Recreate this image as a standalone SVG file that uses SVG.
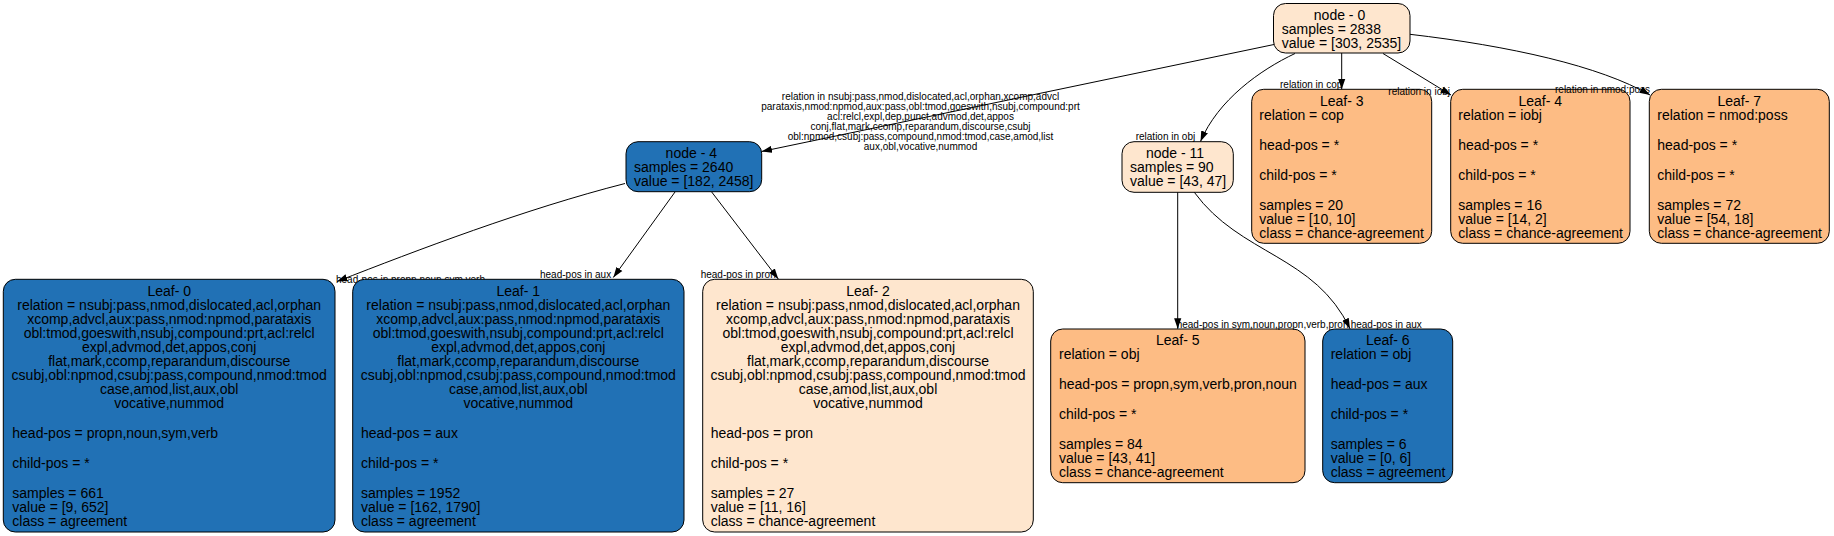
<svg xmlns="http://www.w3.org/2000/svg" width="1834" height="536" viewBox="0 0 1834 536">
<defs>
<style>
.bg{fill:#ffffff}
.b{stroke:#000;stroke-width:1}
.blue{fill:#2171b5}
.lt{fill:#fee6ce}
.md{fill:#fdbc84}
.t{font-family:"Liberation Sans",Arial,Helvetica,sans-serif;font-size:14px;fill:#000}
.e{font-family:"Liberation Sans",Arial,Helvetica,sans-serif;font-size:10px;fill:#000}
.c{fill:none;stroke:#000;stroke-width:1}
</style>
<marker id="arr" markerUnits="userSpaceOnUse" markerWidth="11" markerHeight="8" refX="10.5" refY="4" orient="auto">
<path d="M0,0.4 L10.5,4 L0,7.6 z" fill="#000"/>
</marker>
<clipPath id="underLeaf1">
<path clip-rule="evenodd" d="M0,0 H1834 V536 H0 Z M364.7,279.3 H672 A12,12 0 0 1 684,291.3 V520 A12,12 0 0 1 672,532 H364.7 A12,12 0 0 1 352.7,520 V291.3 A12,12 0 0 1 364.7,279.3 Z"/>
</clipPath>
</defs>
<rect class="bg" x="0" y="0" width="1834" height="536"/>
<g id="node0">
<rect class="b lt" x="1273.5" y="3.5" width="136.5" height="49.5" rx="12"/>
<text class="t" x="1339.5" y="19.8" text-anchor="middle">node - 0</text>
<text class="t"><tspan x="1281.7" y="33.8">samples = 2838</tspan><tspan x="1281.7" y="47.8">value = [303, 2535]</tspan></text>
</g>
<g id="node4">
<rect class="b blue" x="626" y="141.7" width="135.7" height="50" rx="12"/>
<text class="t" x="691.3" y="158.3" text-anchor="middle">node - 4</text>
<text class="t"><tspan x="634" y="172.3">samples = 2640</tspan><tspan x="634" y="186.3">value = [182, 2458]</tspan></text>
</g>
<g id="node11">
<rect class="b lt" x="1122" y="141.7" width="111.3" height="50.6" rx="12"/>
<text class="t" x="1175" y="158.3" text-anchor="middle">node - 11</text>
<text class="t"><tspan x="1130" y="172.3">samples = 90</tspan><tspan x="1130" y="186.3">value = [43, 47]</tspan></text>
</g>
<g id="leaf0">
<rect class="b blue" x="3.3" y="279.3" width="331.7" height="252.7" rx="12"/>
<text class="t" text-anchor="middle"><tspan x="169.2" y="296.3">Leaf- 0</tspan><tspan x="169.2" y="310.3">relation = nsubj:pass,nmod,dislocated,acl,orphan</tspan><tspan x="169.2" y="324.3">xcomp,advcl,aux:pass,nmod:npmod,parataxis</tspan><tspan x="169.2" y="338.3">obl:tmod,goeswith,nsubj,compound:prt,acl:relcl</tspan><tspan x="169.2" y="352.3">expl,advmod,det,appos,conj</tspan><tspan x="169.2" y="366.3">flat,mark,ccomp,reparandum,discourse</tspan><tspan x="169.2" y="380.3">csubj,obl:npmod,csubj:pass,compound,nmod:tmod</tspan><tspan x="169.2" y="394.3">case,amod,list,aux,obl</tspan><tspan x="169.2" y="408.3">vocative,nummod</tspan></text>
<text class="t"><tspan x="12.3" y="438.3">head-pos = propn,noun,sym,verb</tspan><tspan x="12.3" y="468.3">child-pos = *</tspan><tspan x="12.3" y="498.3">samples = 661</tspan><tspan x="12.3" y="512.3">value = [9, 652]</tspan><tspan x="12.3" y="526.3">class = agreement</tspan></text>
</g>
<g id="leaf1">
<rect class="b blue" x="352.7" y="279.3" width="331.3" height="252.7" rx="12"/>
<text class="t" text-anchor="middle"><tspan x="518.3" y="296.3">Leaf- 1</tspan><tspan x="518.3" y="310.3">relation = nsubj:pass,nmod,dislocated,acl,orphan</tspan><tspan x="518.3" y="324.3">xcomp,advcl,aux:pass,nmod:npmod,parataxis</tspan><tspan x="518.3" y="338.3">obl:tmod,goeswith,nsubj,compound:prt,acl:relcl</tspan><tspan x="518.3" y="352.3">expl,advmod,det,appos,conj</tspan><tspan x="518.3" y="366.3">flat,mark,ccomp,reparandum,discourse</tspan><tspan x="518.3" y="380.3">csubj,obl:npmod,csubj:pass,compound,nmod:tmod</tspan><tspan x="518.3" y="394.3">case,amod,list,aux,obl</tspan><tspan x="518.3" y="408.3">vocative,nummod</tspan></text>
<text class="t"><tspan x="361" y="438.3">head-pos = aux</tspan><tspan x="361" y="468.3">child-pos = *</tspan><tspan x="361" y="498.3">samples = 1952</tspan><tspan x="361" y="512.3">value = [162, 1790]</tspan><tspan x="361" y="526.3">class = agreement</tspan></text>
</g>
<g id="leaf2">
<rect class="b lt" x="702.7" y="279.3" width="330.6" height="252.7" rx="12"/>
<text class="t" text-anchor="middle"><tspan x="868" y="296.3">Leaf- 2</tspan><tspan x="868" y="310.3">relation = nsubj:pass,nmod,dislocated,acl,orphan</tspan><tspan x="868" y="324.3">xcomp,advcl,aux:pass,nmod:npmod,parataxis</tspan><tspan x="868" y="338.3">obl:tmod,goeswith,nsubj,compound:prt,acl:relcl</tspan><tspan x="868" y="352.3">expl,advmod,det,appos,conj</tspan><tspan x="868" y="366.3">flat,mark,ccomp,reparandum,discourse</tspan><tspan x="868" y="380.3">csubj,obl:npmod,csubj:pass,compound,nmod:tmod</tspan><tspan x="868" y="394.3">case,amod,list,aux,obl</tspan><tspan x="868" y="408.3">vocative,nummod</tspan></text>
<text class="t"><tspan x="710.7" y="438.3">head-pos = pron</tspan><tspan x="710.7" y="468.3">child-pos = *</tspan><tspan x="710.7" y="498.3">samples = 27</tspan><tspan x="710.7" y="512.3">value = [11, 16]</tspan><tspan x="710.7" y="526.3">class = chance-agreement</tspan></text>
</g>
<g id="leaf3">
<rect class="b md" x="1251.7" y="89.3" width="180" height="154" rx="12"/>
<text class="t" x="1341.7" y="105.5" text-anchor="middle">Leaf- 3</text>
<text class="t"><tspan x="1259.3" y="119.5">relation = cop</tspan><tspan x="1259.3" y="149.5">head-pos = *</tspan><tspan x="1259.3" y="179.5">child-pos = *</tspan><tspan x="1259.3" y="209.5">samples = 20</tspan><tspan x="1259.3" y="223.5">value = [10, 10]</tspan><tspan x="1259.3" y="237.5">class = chance-agreement</tspan></text>
</g>
<g id="leaf4">
<rect class="b md" x="1450.7" y="89.3" width="179.3" height="154" rx="12"/>
<text class="t" x="1540.3" y="105.5" text-anchor="middle">Leaf- 4</text>
<text class="t"><tspan x="1458.3" y="119.5">relation = iobj</tspan><tspan x="1458.3" y="149.5">head-pos = *</tspan><tspan x="1458.3" y="179.5">child-pos = *</tspan><tspan x="1458.3" y="209.5">samples = 16</tspan><tspan x="1458.3" y="223.5">value = [14, 2]</tspan><tspan x="1458.3" y="237.5">class = chance-agreement</tspan></text>
</g>
<g id="leaf7">
<rect class="b md" x="1649.3" y="89.3" width="180" height="154" rx="12"/>
<text class="t" x="1739.3" y="105.5" text-anchor="middle">Leaf- 7</text>
<text class="t"><tspan x="1657.3" y="119.5">relation = nmod:poss</tspan><tspan x="1657.3" y="149.5">head-pos = *</tspan><tspan x="1657.3" y="179.5">child-pos = *</tspan><tspan x="1657.3" y="209.5">samples = 72</tspan><tspan x="1657.3" y="223.5">value = [54, 18]</tspan><tspan x="1657.3" y="237.5">class = chance-agreement</tspan></text>
</g>
<g id="leaf5">
<rect class="b md" x="1050.7" y="329" width="254.3" height="153.7" rx="12"/>
<text class="t" x="1177.8" y="345" text-anchor="middle">Leaf- 5</text>
<text class="t"><tspan x="1059" y="359">relation = obj</tspan><tspan x="1059" y="389">head-pos = propn,sym,verb,pron,noun</tspan><tspan x="1059" y="419">child-pos = *</tspan><tspan x="1059" y="449">samples = 84</tspan><tspan x="1059" y="463">value = [43, 41]</tspan><tspan x="1059" y="477">class = chance-agreement</tspan></text>
</g>
<g id="leaf6">
<rect class="b blue" x="1322.7" y="329" width="130" height="153.7" rx="12"/>
<text class="t" x="1387.7" y="345" text-anchor="middle">Leaf- 6</text>
<text class="t"><tspan x="1330.7" y="359">relation = obj</tspan><tspan x="1330.7" y="389">head-pos = aux</tspan><tspan x="1330.7" y="419">child-pos = *</tspan><tspan x="1330.7" y="449">samples = 6</tspan><tspan x="1330.7" y="463">value = [0, 6]</tspan><tspan x="1330.7" y="477">class = agreement</tspan></text>
</g>
<g id="connectors">
<path class="c" marker-end="url(#arr)" d="M1274,44.5 L761.5,151.5"/>
<path class="c" marker-end="url(#arr)" d="M1295,53.5 C1260,70 1218,100 1200.5,141.5"/>
<path class="c" marker-end="url(#arr)" d="M1341.7,53 L1341.7,89.3"/>
<path class="c" marker-end="url(#arr)" d="M1383,53.5 L1451,95"/>
<path class="c" marker-end="url(#arr)" d="M1410,34.3 C1510,46 1600,66 1650,95"/>
<path class="c" marker-end="url(#arr)" d="M625,183.5 C525,209 417,250.2 337,281.5"/>
<path class="c" marker-end="url(#arr)" d="M675,192 L613.3,277.5"/>
<path class="c" marker-end="url(#arr)" d="M711.7,192 L778.3,279"/>
<path class="c" marker-end="url(#arr)" d="M1177.7,192.3 L1177.7,328.8"/>
<path class="c" marker-end="url(#arr)" d="M1194.3,192.3 C1240,255 1315,255 1350,328.8"/>
<text class="e" text-anchor="middle"><tspan x="920.5" y="99.5">relation in nsubj:pass,nmod,dislocated,acl,orphan,xcomp,advcl</tspan><tspan x="920.5" y="109.8">parataxis,nmod:npmod,aux:pass,obl:tmod,goeswith,nsubj,compound:prt</tspan><tspan x="920.5" y="119.9">acl:relcl,expl,dep,punct,advmod,det,appos</tspan><tspan x="920.5" y="130">conj,flat,mark,ccomp,reparandum,discourse,csubj</tspan><tspan x="920.5" y="140.1">obl:npmod,csubj:pass,compound,nmod:tmod,case,amod,list</tspan><tspan x="920.5" y="150.2">aux,obl,vocative,nummod</tspan></text>
<text class="e" x="1135.7" y="140">relation in obj</text>
<text class="e" x="1280" y="87.8">relation in cop</text>
<text class="e" x="1388.3" y="94.5">relation in iobj</text>
<text class="e" x="1555" y="92.8">relation in nmod:poss</text>
<text class="e" x="336" y="282.5" clip-path="url(#underLeaf1)">head-pos in propn,noun,sym,verb</text>
<text class="e" x="540" y="277.8">head-pos in aux</text>
<text class="e" x="700.7" y="277.8">head-pos in pron</text>
<text class="e" x="1176.7" y="327.5">head-pos in sym,noun,propn,verb,pron</text>
<text class="e" x="1350.7" y="327.5">head-pos in aux</text>
</g>
</svg>
